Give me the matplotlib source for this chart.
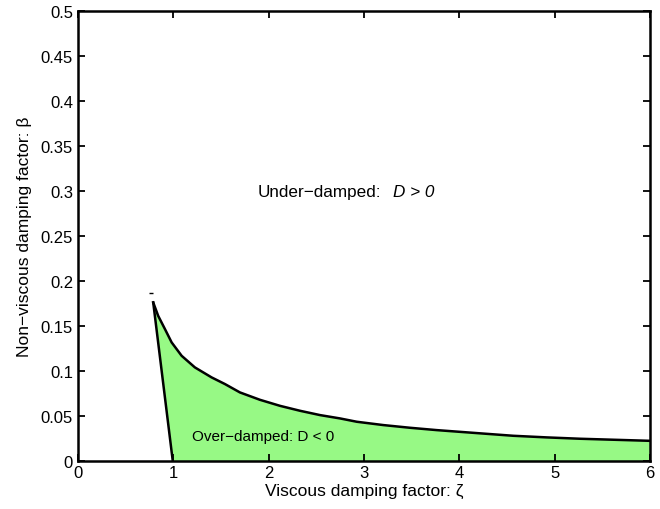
import numpy as np
import matplotlib
matplotlib.use("Agg")
import matplotlib.pyplot as plt
from matplotlib.ticker import FixedLocator, FixedFormatter

plt.rcParams['font.family'] = ['Liberation Sans', 'DejaVu Sans']

# boundary between over-damped and under-damped
zeta_top = [0.790, 0.842, 0.913, 0.983, 1.088, 1.227, 1.402, 1.542, 1.699,
            1.909, 2.119, 2.329, 2.539, 2.748, 2.924, 3.203, 3.483, 3.763,
            4.042, 4.322, 4.566, 4.917, 5.266, 5.615, 5.966, 6.0]
beta_top = [0.1763, 0.1614, 0.1467, 0.1319, 0.1170, 0.1041, 0.0930, 0.0856,
            0.0763, 0.0681, 0.0614, 0.0559, 0.0511, 0.0474, 0.0437, 0.0400,
            0.0370, 0.0344, 0.0322, 0.0300, 0.0281, 0.0263, 0.0248, 0.0237,
            0.0226, 0.0225]
# left branch, from the cusp down to zeta = 1
zeta_left = [0.790, 0.995]
beta_left = [0.1763, 0.0]
# stray point near the cusp
zeta_dot = [0.765]
beta_dot = [0.187]

xticks = [0, 1, 2, 3, 4, 5, 6]
yticks = [0, 0.05, 0.1, 0.15, 0.2, 0.25, 0.3, 0.35, 0.4, 0.45, 0.5]
ytick_labels = ['0', '0.05', '0.1', '0.15', '0.2', '0.25', '0.3', '0.35',
                '0.4', '0.45', '0.5']

fig = plt.figure(figsize=(6.6, 5.1), dpi=100)
ax = fig.add_axes([0.118, 0.094, 0.867, 0.882])

# green region (over-damped)
poly_x = zeta_left[::-1] + zeta_top + [6.0]
poly_y = beta_left[::-1] + beta_top + [0.0]
ax.fill(poly_x, poly_y, color='#97f985', lw=0)
ax.plot(zeta_top, beta_top, color='k', lw=1.8, solid_joinstyle='round')
ax.plot(zeta_left, beta_left, color='k', lw=1.8)
ax.plot(zeta_dot, beta_dot, color='k', marker='_', ms=3, mew=1, ls='none')

ax.text(1.2, 0.0275, 'Over\u2212damped: D < 0', fontsize=11, va='center', ha='left')
ax.text(1.88, 0.300, 'Under\u2212damped:', fontsize=12.3, va='center', ha='left')
ax.text(3.30, 0.300, 'D > 0', fontsize=12.3, va='center', ha='left', fontstyle='italic')

ax.set_xlim(0, 6)
ax.set_ylim(0, 0.5)
ax.xaxis.set_major_locator(FixedLocator(xticks))
ax.yaxis.set_major_locator(FixedLocator(yticks))
ax.yaxis.set_major_formatter(FixedFormatter(ytick_labels))
ax.tick_params(direction='in', top=True, right=True, length=5, width=1.3,
               labelsize=12)
ax.tick_params(axis='x', pad=3)
for s in ax.spines.values():
    s.set_linewidth(1.8)

ax.set_xlabel('Viscous damping factor: \u03b6', fontsize=12.5, labelpad=2)
ax.set_ylabel('Non\u2212viscous damping factor: \u03b2', fontsize=12.5, labelpad=6)

fig.savefig('out.png', dpi=100)
